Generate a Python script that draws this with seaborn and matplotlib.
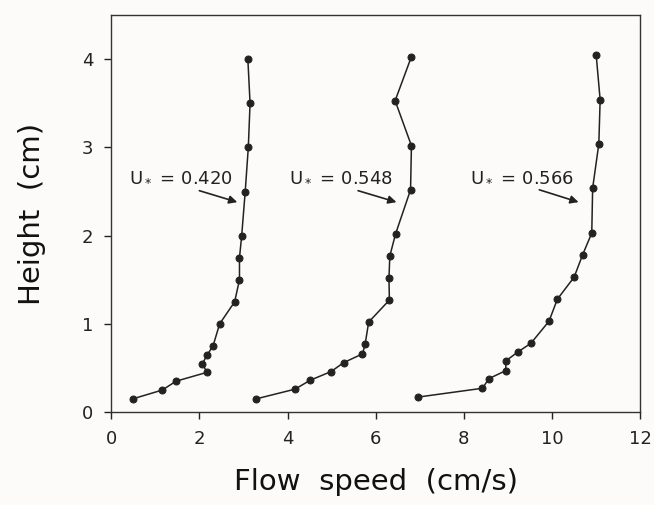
# Flow speed profiles at three shear velocities
import numpy as np
import pandas as pd
import matplotlib.pyplot as plt
import seaborn as sns

# heights (cm) of the measuring points
height_a = [0.15, 0.25, 0.35, 0.45, 0.55, 0.65, 0.75, 1.0, 1.25, 1.5, 1.75, 2.0, 2.5, 3.0, 3.5, 4.0]
height_b = [0.15, 0.26, 0.36, 0.46, 0.56, 0.66, 0.77, 1.02, 1.27, 1.52, 1.77, 2.02, 2.52, 3.02, 3.53, 4.03]
height_c = [0.17, 0.27, 0.38, 0.47, 0.58, 0.68, 0.78, 1.03, 1.28, 1.53, 1.78, 2.03, 2.54, 3.04, 3.54, 4.05]

# flow speeds (cm/s)
speed_a = [0.49, 1.16, 1.47, 2.17, 2.07, 2.18, 2.31, 2.46, 2.80, 2.91, 2.91, 2.96, 3.04, 3.11, 3.15, 3.10]
speed_b = [3.29, 4.17, 4.51, 4.99, 5.27, 5.70, 5.76, 5.84, 6.31, 6.30, 6.32, 6.45, 6.79, 6.81, 6.44, 6.81]
speed_c = [6.96, 8.42, 8.57, 8.95, 8.95, 9.22, 9.52, 9.93, 10.12, 10.50, 10.69, 10.90, 10.92, 11.06, 11.09, 11.00]

labels = [r'U$_*$ = 0.420', r'U$_*$ = 0.548', r'U$_*$ = 0.566']

sns.set_style("ticks")
plt.rcParams['font.family'] = ['DejaVu Sans']

fig = plt.figure(figsize=(6.54, 5.05), dpi=100, facecolor='#fcfbf9')
ax = fig.add_axes([0.170, 0.184, 0.809, 0.786])
ax.set_facecolor('#fcfbf9')

for sp, h in [(speed_a, height_a), (speed_b, height_b), (speed_c, height_c)]:
    df = pd.DataFrame({'speed': sp, 'height': h})
    sns.lineplot(data=df, x='speed', y='height', sort=False, estimator=None,
                 color='#222222', lw=1.1, marker='o', markersize=5,
                 markeredgecolor='#222222', ax=ax)

# labels with arrows pointing at each profile
text_pos = [(1.58, 2.68), (5.2, 2.68), (9.32, 2.68)]
arrow_tail = [(2.0, 2.51), (5.6, 2.51), (9.71, 2.52)]
arrow_head = [(2.86, 2.38), (6.47, 2.38), (10.6, 2.38)]
for lab, tp, tl, hd in zip(labels, text_pos, arrow_tail, arrow_head):
    ax.text(tp[0], tp[1], lab, ha='center', va='center', fontsize=13, color='#222222')
    ax.annotate('', xy=hd, xytext=tl,
                arrowprops=dict(arrowstyle='-|>', color='#222222', lw=1.2,
                                mutation_scale=12, shrinkA=0, shrinkB=0))

ax.set_xlim(0, 12)
ax.set_ylim(0, 4.5)
ax.set_xticks([0, 2, 4, 6, 8, 10, 12])
ax.set_yticks([0, 1, 2, 3, 4])
ax.tick_params(labelsize=13, length=5, width=1, colors='#222222', pad=8)
for s in ax.spines.values():
    s.set_color('#333333')
    s.set_linewidth(1)

ax.set_xlabel('Flow  speed  (cm/s)', fontsize=21, labelpad=14, color='#111111')
ax.set_ylabel('Height  (cm)', fontsize=21, labelpad=26, color='#111111')

fig.savefig('out.png', dpi=100, facecolor=fig.get_facecolor())
